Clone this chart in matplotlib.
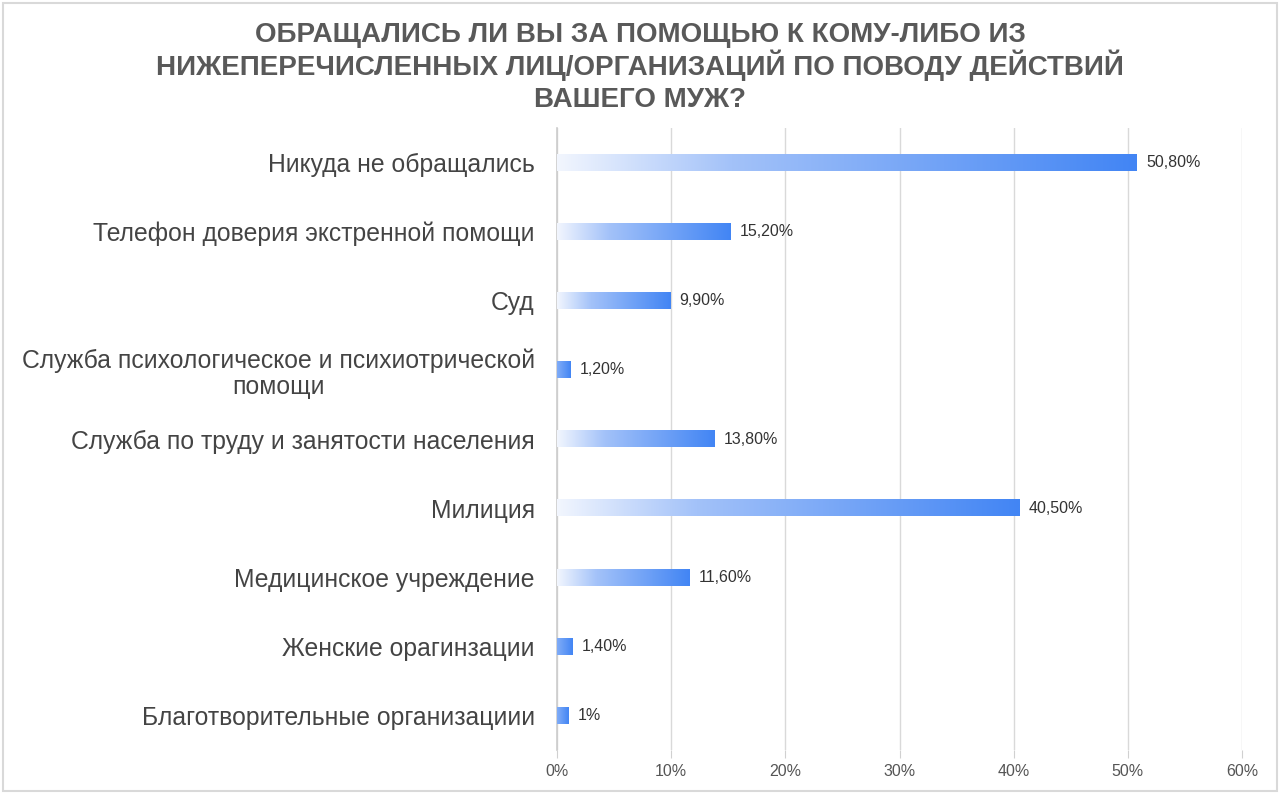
import numpy as np
import matplotlib.pyplot as plt
from matplotlib.colors import LinearSegmentedColormap
from matplotlib.patches import Rectangle

# ─── Data ────────────────────────────────────────────────────────────────────
title_lines = [
    "ОБРАЩАЛИСЬ ЛИ ВЫ ЗА ПОМОЩЬЮ К КОМУ-ЛИБО ИЗ",
    "НИЖЕПЕРЕЧИСЛЕННЫХ ЛИЦ/ОРГАНИЗАЦИЙ ПО ПОВОДУ ДЕЙСТВИЙ",
    "ВАШЕГО МУЖ?",
]
categories = [
    "Никуда не обращались",
    "Телефон доверия экстренной помощи",
    "Суд",
    "Служба психологическое и психиотрической\nпомощи",
    "Служба по труду и занятости населения",
    "Милиция",
    "Медицинское учреждение",
    "Женские орагинзации",
    "Благотворительные организациии",
]
values = [50.8, 15.2, 9.9, 1.2, 13.8, 40.5, 11.6, 1.4, 1.0]
value_labels = ["50,80%", "15,20%", "9,90%", "1,20%", "13,80%",
                "40,50%", "11,60%", "1,40%", "1%"]
xticks = [0, 10, 20, 30, 40, 50, 60]

# ─── Plotting ────────────────────────────────────────────────────────────────
plt.rcParams['font.family'] = ['Liberation Sans', 'DejaVu Sans']

W, H = 1280, 793
fig = plt.figure(figsize=(W / 100, H / 100), dpi=100)
fig.patches.append(Rectangle((0.002, 0.002), 0.996, 0.994, transform=fig.transFigure,
                             fill=False, edgecolor="#d9d9d9", linewidth=1.5))

ax = fig.add_axes([557 / W, 1 - 750 / H, (1242 - 557) / W, (750 - 128) / H])

cmap = LinearSegmentedColormap.from_list(
    "grad", [(0.0, "#f2f6fe"), (0.3, "#a3c2f9"), (1.0, "#4285f4")])
grad = np.linspace(0, 1, 256).reshape(1, -1)
bar_h = 0.24

for i, (v, lab) in enumerate(zip(values, value_labels)):
    g = grad if v > 3 else np.linspace(0.55, 1, 256).reshape(1, -1)
    ax.imshow(g, cmap=cmap, vmin=0, vmax=1, aspect="auto",
              extent=[0, v, i + bar_h / 2, i - bar_h / 2], zorder=3,
              interpolation="bilinear")
    ax.text(v + 0.8, i, lab, va="center", ha="left", fontsize=11.5, color="#333333")

ax.set_xlim(0, 60)
ax.set_ylim(len(categories) - 0.5, -0.5)
ax.set_xticks(xticks)
ax.set_xticklabels([f"{t}%" for t in xticks], fontsize=11.5, color="#555555")
ax.set_yticks(range(len(categories)))
ax.set_yticklabels(categories, fontsize=17.8, color="#444444", linespacing=1.15,
                   multialignment="center")
ax.tick_params(axis="y", length=0, pad=16)
ax.tick_params(axis="x", length=6, color="#d0d0d0", pad=4)
ax.grid(axis="x", color="#d9d9d9", linewidth=1, zorder=0)
for s in ["top", "right", "bottom"]:
    ax.spines[s].set_visible(False)
ax.spines["left"].set_color("#cccccc")
ax.spines["left"].set_linewidth(1.2)

for line, ypx in zip(title_lines, [42, 75, 107]):
    fig.text(0.5, 1 - ypx / H, line, ha="center", va="baseline", fontsize=20,
             fontweight="bold", color="#595959")

fig.savefig("out.png", dpi=100)
